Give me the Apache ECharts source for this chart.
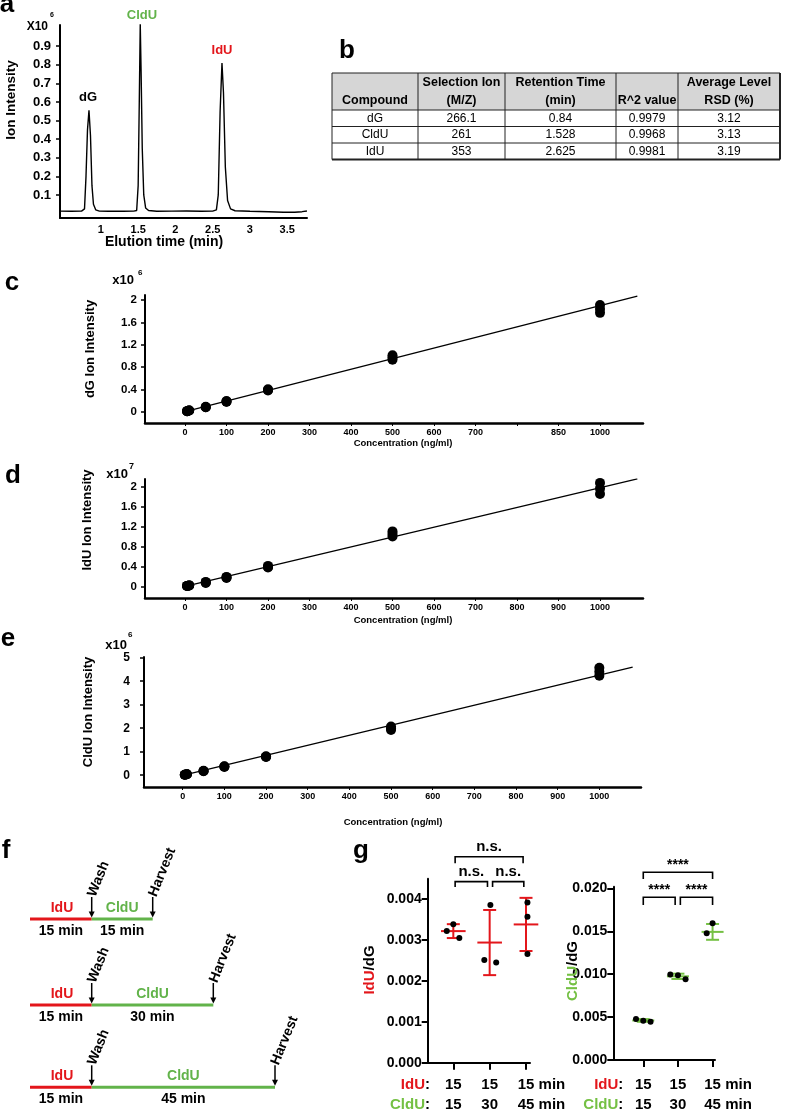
<!DOCTYPE html>
<html>
<head>
<meta charset="utf-8">
<script src="https://cdn.jsdelivr.net/npm/echarts@6/dist/echarts.min.js"></script>
<style>html,body{margin:0;padding:0;background:#fff}#main{width:785px;height:1111px}</style>
</head>
<body>
<div id="main"></div>
<script>
// ---- a: chromatogram (intensity x10^6)
var elutionTime = [0.45,0.60,0.74,0.78,0.80,0.82,0.84,0.86,0.88,0.90,0.93,0.98,1.10,1.30,1.44,1.48,1.50,1.515,1.528,1.54,1.555,1.575,1.60,1.64,1.75,1.95,2.15,2.35,2.50,2.55,2.575,2.60,2.625,2.645,2.67,2.70,2.74,2.80,3.00,3.25,3.45,3.60,3.70,3.765];
var ionIntensity = [0.013,0.012,0.013,0.025,0.2,0.45,0.555,0.42,0.15,0.05,0.02,0.013,0.012,0.012,0.013,0.016,0.15,0.6,1.02,0.75,0.35,0.1,0.03,0.016,0.012,0.013,0.014,0.012,0.013,0.02,0.1,0.55,0.81,0.65,0.25,0.07,0.025,0.015,0.012,0.01,0.007,0.007,0.01,0.014];
var elutionTicks = [1, 1.5, 2, 2.5, 3, 3.5];
var ionTicks = [0.1, 0.2, 0.3, 0.4, 0.5, 0.6, 0.7, 0.8, 0.9];
var peakNames = ['dG', 'CldU', 'IdU'];

// ---- b: table
var tableHeader = [['Compound'], ['Selection Ion', '(M/Z)'], ['Retention Time', '(min)'], ['R^2 value'], ['Average Level', 'RSD (%)']];
var tableRows = [
  ['dG', '266.1', '0.84', '0.9979', '3.12'],
  ['CldU', '261', '1.528', '0.9968', '3.13'],
  ['IdU', '353', '2.625', '0.9981', '3.19']
];

// ---- c-e: calibration curves (triplicates per concentration)
var concentration = [5, 10, 50, 100, 200, 500, 1000];
var dgIntensity = [[0.01,0.01,0.01],[0.02,0.02,0.02],[0.08,0.08,0.09],[0.18,0.18,0.19],[0.38,0.39,0.40],[0.93,0.97,1.01],[1.77,1.84,1.91]];
var iduIntensity = [[0.01,0.01,0.01],[0.02,0.02,0.02],[0.07,0.08,0.09],[0.17,0.18,0.19],[0.38,0.39,0.41],[1.0,1.05,1.1],[1.85,1.96,2.07]];
var clduIntensity = [[0.02,0.02,0.02],[0.04,0.04,0.04],[0.17,0.18,0.19],[0.35,0.37,0.38],[0.78,0.79,0.81],[1.93,2.0,2.07],[4.23,4.4,4.57]];
var dgFit = [[5, 0.01], [1090, 2.07]];
var iduFit = [[5, 0.01], [1090, 2.15]];
var clduFit = [[5, 0.02], [1080, 4.6]];
var concTicks = [0, 100, 200, 300, 400, 500, 600, 700, 800, 900, 1000];
var concLabelsC = ['0', '100', '200', '300', '400', '500', '600', '700', '', '850', '1000'];
var concLabelsDE = ['0', '100', '200', '300', '400', '500', '600', '700', '800', '900', '1000'];
var dgTicks = [0, 0.4, 0.8, 1.2, 1.6, 2];
var clduTicks = [0, 1, 2, 3, 4, 5];

// ---- f: labelling schemes
var iduPulse = [15, 15, 15];
var clduPulse = [15, 30, 45];

// ---- g: ratios, three replicates per condition
var iduRatio = [[0.00322, 0.00339, 0.00305], [0.00251, 0.00245, 0.00386], [0.00392, 0.00357, 0.00266]];
var iduJitter = [[-0.18, 0, 0.165], [-0.147, 0.18, 0.02], [0.04, 0.04, 0.04]];
var clduRatio = [[0.00478, 0.00458, 0.00447], [0.00997, 0.00989, 0.00940], [0.01476, 0.01593, 0.01411]];
var clduJitter = [[-0.21, 0, 0.21], [-0.22, 0, 0.22], [-0.17, 0, 0.16]];
var iduTicks = [0, 0.001, 0.002, 0.003, 0.004];
var clduRatioTicks = [0, 0.005, 0.01, 0.015, 0.02];
var iduBrackets = [[1.05, 1.94, 0.00443, 0.0043], [2.08, 2.94, 0.00443, 0.0043], [1.05, 2.92, 0.00504, 0.00488]];
var iduSig = ['n.s.', 'n.s.', 'n.s.'];
var clduBrackets = [[1.0, 1.92, 0.01897, 0.01807], [2.07, 3.0, 0.01897, 0.01807], [1.0, 3.0, 0.02188, 0.0211]];
var clduSig = ['****', '****', '****'];

var F = '"Liberation Sans", Arial, Helvetica, sans-serif';
var RED = '#e3161b';
var GREEN = '#62b34a';
var GGREEN = '#74c043';

function zip(xs, ys) { return xs.map(function (x, i) { return [x, ys[i]]; }); }
function reps(conc, vals) {
  var out = [];
  conc.forEach(function (c, i) { vals[i].forEach(function (v) { out.push([c, v]); }); });
  return out;
}
function jittered(vals, jit) {
  var out = [];
  vals.forEach(function (g, i) { g.forEach(function (v, j) { out.push([i + 1 + jit[i][j], v]); }); });
  return out;
}
function stats(vals) {
  return vals.map(function (g, i) {
    var m = g.reduce(function (a, b) { return a + b; }, 0) / g.length;
    var s = Math.sqrt(g.reduce(function (a, b) { return a + (b - m) * (b - m); }, 0) / (g.length - 1));
    return [i + 1, m, s];
  });
}

function statsRender(color, half) {
  return function (params, api) {
    var x = api.value(0), m = api.value(1), s = api.value(2);
    var pm = api.coord([x, m]), pt = api.coord([x, m + s]), pb = api.coord([x, m - s]);
    var st = { stroke: color, lineWidth: 2 };
    return { type: 'group', children: [
      { type: 'line', shape: { x1: pm[0] - half, y1: pm[1], x2: pm[0] + half, y2: pm[1] }, style: st },
      { type: 'line', shape: { x1: pt[0], y1: pt[1], x2: pb[0], y2: pb[1] }, style: st },
      { type: 'line', shape: { x1: pt[0] - 6.5, y1: pt[1], x2: pt[0] + 6.5, y2: pt[1] }, style: st },
      { type: 'line', shape: { x1: pb[0] - 6.5, y1: pb[1], x2: pb[0] + 6.5, y2: pb[1] }, style: st }
    ] };
  };
}
function bracketRender(labels, fontSize, gap) {
  return function (params, api) {
    var a = api.coord([api.value(0), api.value(2)]);
    var b = api.coord([api.value(1), api.value(2)]);
    var leg = api.coord([api.value(0), api.value(3)]);
    return { type: 'group', children: [
      { type: 'polyline', shape: { points: [[a[0], leg[1]], a, b, [b[0], leg[1]]] },
        style: { stroke: '#000', lineWidth: 1.6, fill: null } },
      { type: 'text', x: (a[0] + b[0]) / 2, y: a[1] - gap,
        style: { text: labels[params.dataIndex], font: 'bold ' + fontSize + 'px ' + F, fill: '#000',
                 textAlign: 'center', textVerticalAlign: 'bottom' } }
    ] };
  };
}

var tickLabel = function (size) { return { color: '#000', fontFamily: F, fontWeight: 'bold', fontSize: size }; };
var blackLine = function (w) { return { show: true, onZero: false, lineStyle: { color: '#000', width: w } }; };

var option = {
  animation: false,
  backgroundColor: '#fff',
  grid: [
    { left: 60, top: 25, width: 247, height: 193 },
    { left: 145, top: 295, width: 498, height: 128 },
    { left: 145, top: 479, width: 498, height: 119 },
    { left: 144, top: 657, width: 497, height: 130 },
    { left: 427.7, top: 878.8, width: 102.3, height: 183.9 },
    { left: 613.3, top: 886.7, width: 101.7, height: 173.3 }
  ],
  xAxis: [
    { gridIndex: 0, type: 'value', min: 0.451, max: 3.766, axisLine: blackLine(2), axisTick: { show: false }, splitLine: { show: false },
      axisLabel: Object.assign(tickLabel(11), { customValues: elutionTicks, margin: 6, formatter: function (v) { return String(v); } }) },
    { gridIndex: 1, type: 'value', min: -96.4, max: 1103.6, axisLine: blackLine(2.5), splitLine: { show: false },
      axisTick: { customValues: concTicks, length: 3, lineStyle: { color: '#000' } },
      axisLabel: Object.assign(tickLabel(9), { customValues: concTicks, margin: 5, formatter: function (v) { return concLabelsC[concTicks.indexOf(v)]; } }) },
    { gridIndex: 2, type: 'value', min: -96.4, max: 1103.6, axisLine: blackLine(2.5), splitLine: { show: false },
      axisTick: { customValues: concTicks, length: 3, lineStyle: { color: '#000' } },
      axisLabel: Object.assign(tickLabel(9), { customValues: concTicks, margin: 5, formatter: function (v) { return concLabelsDE[concTicks.indexOf(v)]; } }) },
    { gridIndex: 3, type: 'value', min: -92.9, max: 1100, axisLine: blackLine(2.5), splitLine: { show: false },
      axisTick: { customValues: concTicks, length: 3, lineStyle: { color: '#000' } },
      axisLabel: Object.assign(tickLabel(9), { customValues: concTicks, margin: 5, formatter: function (v) { return concLabelsDE[concTicks.indexOf(v)]; } }) },
    { gridIndex: 4, type: 'value', min: 0.295, max: 3.11, axisLine: blackLine(2), splitLine: { show: false },
      axisTick: { customValues: [1, 2, 3], length: 7, lineStyle: { color: '#000', width: 2 } }, axisLabel: { show: false } },
    { gridIndex: 5, type: 'value', min: 0.135, max: 3.07, axisLine: blackLine(2), splitLine: { show: false },
      axisTick: { customValues: [1, 2, 3], length: 7, lineStyle: { color: '#000', width: 2 } }, axisLabel: { show: false } }
  ],
  yAxis: [
    { gridIndex: 0, type: 'value', min: -0.024, max: 1.014, axisLine: blackLine(2), splitLine: { show: false },
      axisTick: { customValues: ionTicks, length: 4, lineStyle: { color: '#000', width: 1.5 } },
      axisLabel: Object.assign(tickLabel(13), { customValues: ionTicks, margin: 9, formatter: function (v) { return v.toFixed(1); } }) },
    { gridIndex: 1, type: 'value', min: -0.2025, max: 2.09, axisLine: blackLine(2), splitLine: { show: false },
      axisTick: { customValues: dgTicks, length: 4, lineStyle: { color: '#000', width: 1.5 } },
      axisLabel: Object.assign(tickLabel(11.5), { customValues: dgTicks, margin: 8, formatter: function (v) { return String(v); } }) },
    { gridIndex: 2, type: 'value', min: -0.232, max: 2.148, axisLine: blackLine(2), splitLine: { show: false },
      axisTick: { customValues: dgTicks, length: 4, lineStyle: { color: '#000', width: 1.5 } },
      axisLabel: Object.assign(tickLabel(11.5), { customValues: dgTicks, margin: 8, formatter: function (v) { return String(v); } }) },
    { gridIndex: 3, type: 'value', min: -0.5, max: 5.03, axisLine: blackLine(2), splitLine: { show: false },
      axisTick: { customValues: clduTicks, length: 4, lineStyle: { color: '#000', width: 1.5 } },
      axisLabel: Object.assign(tickLabel(12), { customValues: clduTicks, margin: 14, formatter: function (v) { return String(v); } }) },
    { gridIndex: 4, type: 'value', min: 0, max: 0.0045, axisLine: blackLine(2), splitLine: { show: false },
      axisTick: { customValues: iduTicks, length: 6, lineStyle: { color: '#000', width: 2 } },
      axisLabel: Object.assign(tickLabel(14), { customValues: iduTicks, margin: 6, formatter: function (v) { return v.toFixed(3); } }) },
    { gridIndex: 5, type: 'value', min: 0, max: 0.0202, axisLine: blackLine(2), splitLine: { show: false },
      axisTick: { customValues: clduRatioTicks, length: 6, lineStyle: { color: '#000', width: 2 } },
      axisLabel: Object.assign(tickLabel(14), { customValues: clduRatioTicks, margin: 6, formatter: function (v) { return v.toFixed(3); } }) }
  ],
  series: [
    { type: 'line', xAxisIndex: 0, yAxisIndex: 0, data: zip(elutionTime, ionIntensity), showSymbol: false,
      lineStyle: { color: '#000', width: 1.4 } },
    { type: 'line', xAxisIndex: 1, yAxisIndex: 1, data: dgFit, showSymbol: false, lineStyle: { color: '#000', width: 1.3 } },
    { type: 'scatter', xAxisIndex: 1, yAxisIndex: 1, data: reps(concentration, dgIntensity), symbolSize: 10, itemStyle: { color: '#000', opacity: 1 } },
    { type: 'line', xAxisIndex: 2, yAxisIndex: 2, data: iduFit, showSymbol: false, lineStyle: { color: '#000', width: 1.3 } },
    { type: 'scatter', xAxisIndex: 2, yAxisIndex: 2, data: reps(concentration, iduIntensity), symbolSize: 10, itemStyle: { color: '#000', opacity: 1 } },
    { type: 'line', xAxisIndex: 3, yAxisIndex: 3, data: clduFit, showSymbol: false, lineStyle: { color: '#000', width: 1.3 } },
    { type: 'scatter', xAxisIndex: 3, yAxisIndex: 3, data: reps(concentration, clduIntensity), symbolSize: 10, itemStyle: { color: '#000', opacity: 1 } },
    { type: 'custom', xAxisIndex: 4, yAxisIndex: 4, data: stats(iduRatio), renderItem: statsRender(RED, 12.3), z: 2 },
    { type: 'scatter', xAxisIndex: 4, yAxisIndex: 4, data: jittered(iduRatio, iduJitter), symbolSize: 6, itemStyle: { color: '#000', opacity: 1 }, z: 3 },
    { type: 'custom', xAxisIndex: 4, yAxisIndex: 4, data: iduBrackets, renderItem: bracketRender(iduSig, 15, 2), clip: false },
    { type: 'custom', xAxisIndex: 5, yAxisIndex: 5, data: stats(clduRatio), renderItem: statsRender(GGREEN, 11), z: 2 },
    { type: 'scatter', xAxisIndex: 5, yAxisIndex: 5, data: jittered(clduRatio, clduJitter), symbolSize: 6, itemStyle: { color: '#000', opacity: 1 }, z: 3 },
    { type: 'custom', xAxisIndex: 5, yAxisIndex: 5, data: clduBrackets, renderItem: bracketRender(clduSig, 14, 0), clip: false }
  ]
};

var chart = echarts.init(document.getElementById('main'));
chart.setOption(option);

// ---- annotations
var els = [];
function txt(s, x, y, size, opts) {
  opts = opts || {};
  els.push({ type: 'text', x: x, y: y, rotation: opts.rot || 0, z: 10,
    style: { text: s, font: (opts.normal ? '' : 'bold ') + size + 'px ' + F, fill: opts.color || '#000',
             textAlign: opts.align || 'center', textVerticalAlign: opts.va || 'middle', rich: opts.rich } });
}
function seg(x1, y1, x2, y2, color, w) {
  els.push({ type: 'line', z: 10, shape: { x1: x1, y1: y1, x2: x2, y2: y2 }, style: { stroke: color, lineWidth: w } });
}
function arrow(x, y1, y2) {
  seg(x, y1, x, y2 - 4, '#000', 1.5);
  els.push({ type: 'polygon', z: 10, shape: { points: [[x - 3, y2 - 6], [x + 3, y2 - 6], [x, y2]] }, style: { fill: '#000' } });
}

// panel letters
[['a', 7, 5], ['b', 347, 51], ['c', 12, 283], ['d', 13, 476], ['e', 8, 639], ['f', 6, 851], ['g', 361, 851]].forEach(function (p) {
  txt(p[0], p[1], p[2], 26);
});

// a
txt('Ion Intensity', 11, 100, 13.5, { rot: Math.PI / 2 });
txt('Elution time (min)', 164, 242, 14);
txt('X10', 48, 27, 12, { align: 'right' });
txt('6', 50, 15, 7, { align: 'left' });
var peakPos = [[88, 97, '#000'], [142, 15, GREEN], [222, 50, RED]];
peakNames.forEach(function (n, i) { txt(n, peakPos[i][0], peakPos[i][1], 13, { color: peakPos[i][2] }); });

// b table
var colX = [332, 418, 505, 616, 678, 780];
var rowY = [73, 110, 126.5, 143, 159.5];
els.push({ type: 'rect', z: 5, shape: { x: colX[0], y: rowY[0], width: colX[5] - colX[0], height: rowY[1] - rowY[0] }, style: { fill: '#d6d6d6' } });
rowY.forEach(function (y, i) { seg(colX[0], y, colX[5], y, '#222', i === rowY.length - 1 ? 2 : 1); });
colX.forEach(function (x, i) { seg(x, rowY[0], x, rowY[4], '#222', i === colX.length - 1 ? 2 : 1); });
tableHeader.forEach(function (h, c) {
  var cx = (colX[c] + colX[c + 1]) / 2;
  if (h.length === 1) { txt(h[0], cx, 101, 12.5); }
  else { txt(h[0], cx, 83, 12.5); txt(h[1], cx, 101, 12.5); }
});
tableRows.forEach(function (r, ri) {
  var cy = (rowY[ri + 1] + rowY[ri + 2]) / 2;
  r.forEach(function (v, c) { txt(v, (colX[c] + colX[c + 1]) / 2, cy, 12, { normal: true }); });
});

// c, d, e axis titles
txt('dG Ion Intensity', 90, 349, 13, { rot: Math.PI / 2 });
txt('x10', 134, 280, 13, { align: 'right' });
txt('6', 138, 273, 8, { align: 'left' });
txt('Concentration (ng/ml)', 403, 443, 9.5);
txt('IdU Ion Intensity', 87, 520, 13, { rot: Math.PI / 2 });
txt('x10', 128, 474, 13, { align: 'right' });
txt('7', 129, 467, 9, { align: 'left' });
txt('Concentration (ng/ml)', 403, 620, 9.5);
txt('CldU Ion Intensity', 88, 712, 13, { rot: Math.PI / 2 });
txt('x10', 127, 645, 13, { align: 'right' });
txt('6', 128, 635, 8, { align: 'left' });
txt('Concentration (ng/ml)', 393, 822, 9.5);

// f schemes
var rowsF = [919, 1005, 1087.3];
var harvestX = [152.7, 213.3, 275];
var rot = 68 * Math.PI / 180;
rowsF.forEach(function (y, i) {
  seg(30, y, 91.7, y, RED, 3);
  seg(91.7, y, harvestX[i], y, GREEN, 3);
  txt('IdU', 62, y - 11, 14, { color: RED });
  txt('CldU', (91.7 + harvestX[i]) / 2, y - 11, 14, { color: GREEN });
  txt(iduPulse[i] + ' min', 61, y + 12, 14);
  txt(clduPulse[i] + ' min', (91.7 + harvestX[i]) / 2, y + 12, 14);
  arrow(91.7, y - 22, y - 1.5);
  arrow(harvestX[i], y - 22, y - 1.5);
  txt('Wash', 91.7, y - 23, 14, { rot: rot, align: 'left' });
  txt('Harvest', harvestX[i], y - 23, 14, { rot: rot, align: 'left' });
});

// g titles and condition labels
txt('{r|IdU}{k|/dG}', 370, 970, 15, { rot: Math.PI / 2,
  rich: { r: { fill: RED, font: 'bold 15px ' + F }, k: { fill: '#000', font: 'bold 15px ' + F } } });
txt('{r|CldU}{k|/dG}', 573.3, 971, 15, { rot: Math.PI / 2,
  rich: { r: { fill: GGREEN, font: 'bold 15px ' + F }, k: { fill: '#000', font: 'bold 15px ' + F } } });
[[4, 430], [5, 623.3]].forEach(function (g) {
  var richI = { r: { fill: RED, font: 'bold 15px ' + F }, k: { fill: '#000', font: 'bold 15px ' + F } };
  var richC = { r: { fill: GGREEN, font: 'bold 15px ' + F }, k: { fill: '#000', font: 'bold 15px ' + F } };
  txt('{r|IdU}{k|:}', g[1], 1085, 15, { align: 'right', rich: richI });
  txt('{r|CldU}{k|:}', g[1], 1105, 15, { align: 'right', rich: richC });
  [0, 1, 2].forEach(function (i) {
    var px = chart.convertToPixel({ gridIndex: g[0] }, [i + 1, 0])[0];
    if (i < 2) {
      txt(String(iduPulse[i]), px, 1085, 15);
      txt(String(clduPulse[i]), px, 1105, 15);
    } else {
      txt(iduPulse[i] + ' min', px - 8.3, 1085, 15, { align: 'left' });
      txt(clduPulse[i] + ' min', px - 8.3, 1105, 15, { align: 'left' });
    }
  });
});

chart.setOption({ graphic: { elements: els } });
</script>
</body>
</html>
